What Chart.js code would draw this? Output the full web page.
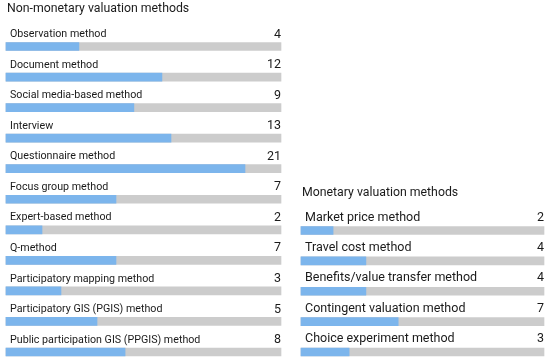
<!DOCTYPE html>
<html>
<head>
<meta charset="utf-8">
<script src="https://cdn.jsdelivr.net/npm/chart.js@4"></script>
<style>
  html, body { margin: 0; padding: 0; background: #fff; }
  #wrap { position: relative; width: 550px; height: 361px; }
  #wrap canvas { position: absolute; left: 0; top: 0; }
</style>
</head>
<body>
<div id="wrap">
  <canvas id="non-monetary" width="550" height="361"></canvas>
  <canvas id="monetary" width="550" height="361"></canvas>
</div>
<script>
// Non-monetary valuation methods
const nonMonetaryTitle = 'Non-monetary valuation methods';
const nonMonetaryLabels = [
  'Observation method', 'Document method', 'Social media-based method', 'Interview',
  'Questionnaire method', 'Focus group method', 'Expert-based method', 'Q-method',
  'Participatory mapping method', 'Participatory GIS (PGIS) method',
  'Public participation GIS (PPGIS) method'
];
const nonMonetaryCounts = [4, 12, 9, 13, 21, 7, 2, 7, 3, 5, 8];
// bar fill, % of the grey track
const nonMonetaryFill = [26.5, 56.7, 46.5, 60, 86.9, 40, 13.1, 40, 20, 33.1, 43.3];

// Monetary valuation methods
const monetaryTitle = 'Monetary valuation methods';
const monetaryLabels = [
  'Market price method', 'Travel cost method', 'Benefits/value transfer method',
  'Contingent valuation method', 'Choice experiment method'
];
const monetaryCounts = [2, 4, 4, 7, 3];
const monetaryFill = [13.2, 26.7, 26.7, 40, 19.8];

const FONT = "Roboto, 'Noto Sans', sans-serif";

// draws the title, row labels and counts around the bars
const textPlugin = {
  id: 'rowText',
  afterDatasetsDraw(chart, args, opts) {
    const ctx = chart.ctx;
    const area = chart.chartArea;
    const yScale = chart.scales.y;
    ctx.save();
    ctx.fillStyle = '#1a1a1a';
    ctx.textBaseline = 'middle';
    ctx.font = '12.3px ' + FONT;
    ctx.textAlign = 'left';
    ctx.fillText(opts.title, area.left + 1, yScale.getPixelForValue(0) - 37.5);
    chart.data.labels.forEach((label, i) => {
      const y = yScale.getPixelForValue(i) - opts.labelGap;
      ctx.font = opts.labelSize + 'px ' + FONT;
      ctx.textAlign = 'left';
      ctx.fillText(label, area.left + 4, y);
      ctx.font = '12.5px ' + FONT;
      ctx.textAlign = 'right';
      ctx.fillText(String(opts.counts[i]), area.right, y);
    });
    ctx.restore();
  }
};

function makeChart(id, title, labels, counts, fill, padding, labelSize, labelGap) {
  return new Chart(document.getElementById(id), {
    type: 'bar',
    data: {
      labels: labels,
      datasets: [
        {
          data: fill,
          backgroundColor: '#7cb5ec',
          barThickness: 8,
          grouped: false,
          clip: false
        },
        {
          data: labels.map(() => 100),
          backgroundColor: '#cccccc',
          barThickness: 8,
          grouped: false,
          clip: false
        }
      ]
    },
    options: {
      indexAxis: 'y',
      responsive: false,
      animation: false,
      layout: { padding: padding },
      scales: {
        x: { min: 0, max: 100, display: false },
        y: { display: false, offset: false }
      },
      plugins: {
        legend: { display: false },
        tooltip: { enabled: false },
        rowText: { title: title, counts: counts, labelSize: labelSize, labelGap: labelGap }
      }
    },
    plugins: [textPlugin]
  });
}

makeChart('non-monetary', nonMonetaryTitle, nonMonetaryLabels, nonMonetaryCounts, nonMonetaryFill,
  { left: 6, right: 269, top: 46.5, bottom: 9 }, 10.7, 12);
makeChart('monetary', monetaryTitle, monetaryLabels, monetaryCounts, monetaryFill,
  { left: 301, right: 6, top: 230.5, bottom: 9 }, 12.5, 13);
</script>
</body>
</html>
